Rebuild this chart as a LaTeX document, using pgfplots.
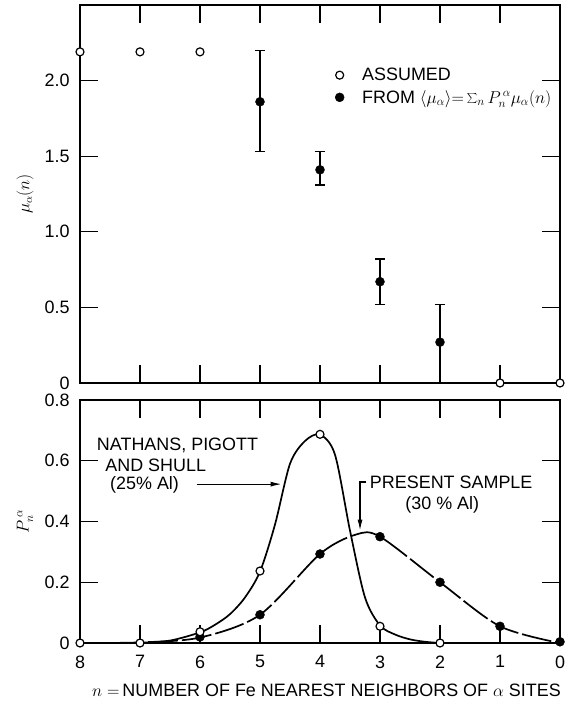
\documentclass[border=0pt]{standalone}
\usepackage{fontspec}
\setmainfont{Liberation Sans}
\usepackage{pgfplots}
\pgfplotsset{compat=1.18}
\usetikzlibrary{arrows.meta}
\begin{document}
\begin{tikzpicture}
\path[use as bounding box] (0,0) rectangle (571bp,707bp);
\pgfplotsset{
  common/.style={
    scale only axis, width=480bp, xmin=0, xmax=8, x dir=reverse,
    axis line style={line width=1.4bp},
    tick style={line width=1.2bp, black}, major tick length=18bp,
    tick align=inside, xtick pos=both, ytick pos=both,
    font=\fontsize{18}{21}\selectfont,
    /pgf/number format/assume math mode=true,
    clip mode=individual,
    yticklabel style={xshift=-7bp},
    xticklabel style={yshift=-9bp},
    every axis y label/.style={at={(rel axis cs:0,0.5)}, xshift=-55bp, rotate=90, anchor=center},
    every axis x label/.style={at={(rel axis cs:0.5,0)}, yshift=-47bp, xshift=6.5bp, anchor=center},
  },
  openmark/.style={only marks, mark=*, mark size=4bp, mark options={fill=white, draw=black, line width=1.2bp}},
  fullmark/.style={only marks, mark=*, mark size=4.5bp, mark options={fill=black, draw=black}},
}
% ---------------- top panel
\begin{axis}[common, at={(80bp,324bp)}, anchor=south west, height=378bp,
  ymin=0, ymax=2.5, ytick={0,0.5,1,1.5,2}, yticklabels={0,0.5,1.0,1.5,2.0},
  xtick={1,...,7}, xticklabels={},
  ylabel={\fontsize{16}{18}\selectfont$\mu_\alpha(n)$},
  legend style={at={(axis cs:3.80,2.11)}, anchor=north west, draw=none, fill=none,
    font=\fontsize{18}{21}\selectfont, row sep=4bp,
    /tikz/every odd column/.append style={column sep=16bp}},
  legend cell align=left]
\addlegendimage{openmark}
\addlegendentry{ASSUMED}
\addlegendimage{fullmark}
\addlegendentry{FROM $\langle\mu_\alpha\rangle{=}\sum\nolimits_n P_n^{\,\alpha}\mu_\alpha(n)$}
\addplot[forget plot, fullmark, black,
  error bars/.cd, y dir=both, y explicit,
  error bar style={line width=1.2bp, black},
  error mark options={rotate=90, mark size=5bp, line width=1.2bp, black}]
  coordinates {
  (5,1.86) += (0,0.34) -= (0,0.33)
  (4,1.41) += (0,0.12) -= (0,0.10)
  (3,0.67) += (0,0.15) -= (0,0.15)
  (2,0.27) += (0,0.25) -= (0,0.27)
  };
\addplot[forget plot, openmark] coordinates {(8,2.19) (7,2.19) (6,2.19) (1,0) (0,0)};
\end{axis}
% ---------------- bottom panel
\begin{axis}[common, at={(80bp,64bp)}, anchor=south west, height=243bp,
  ymin=0, ymax=0.8, ytick={0,0.2,0.4,0.6,0.8}, yticklabels={0,0.2,0.4,0.6,0.8},
  xtick={0,...,8},
  ylabel={$P_n^{\,\alpha}$},
  xlabel={$n=$\,NUMBER OF Fe NEAREST NEIGHBORS OF $\alpha$ SITES}]
% Nathans, Pigott and Shull curve
\addplot[smooth, line width=1.7bp] coordinates {
  (8,0) (7.5,0) (7,0.001) (6.5,0.008) (6,0.035) (5.75,0.06) (5.5,0.095) (5.25,0.15)
  (5,0.235) (4.75,0.39) (4.5,0.59) (4.25,0.665) (4,0.686) (3.75,0.62) (3.5,0.37)
  (3.25,0.15) (3,0.058) (2.75,0.028) (2.5,0.012) (2.25,0.004) (2,0)};
% present sample curve
\addplot[smooth, line width=1.7bp, dash pattern=on 30bp off 4bp] coordinates {
  (8,0) (7,0.002) (6,0.018) (5,0.093) (4,0.293) (3.4,0.357) (3,0.35) (2,0.2) (1,0.055) (0,0)};
\addplot[fullmark] coordinates {(6,0.02) (5,0.093) (4,0.293) (3,0.35) (2,0.2) (1,0.055) (0,0.004)};
\addplot[openmark] coordinates {(8,0) (7,0) (6,0.037) (5,0.237) (4,0.687) (3,0.055) (2,0)};
\node[anchor=west, inner sep=0] at (axis cs:7.72,0.652) {NATHANS, PIGOTT};
\node[anchor=west, inner sep=0] at (axis cs:7.58,0.586) {AND SHULL};
\node[anchor=west, inner sep=0] at (axis cs:7.50,0.520) {(25\% Al)};
\draw[-{Latex[length=11bp,width=5bp]}, line width=1.2bp] (axis cs:6.05,0.523) -- (axis cs:4.64,0.523);
\node[anchor=west, inner sep=0] at (axis cs:3.17,0.53) {PRESENT SAMPLE};
\node[anchor=west, inner sep=0] at (axis cs:2.58,0.454) {(30 \% Al)};
\draw[-{Latex[length=11bp,width=5bp]}, line width=1.2bp] (axis cs:3.233,0.53) -- (axis cs:3.333,0.53) -- (axis cs:3.333,0.37);
\end{axis}
\end{tikzpicture}
\end{document}
